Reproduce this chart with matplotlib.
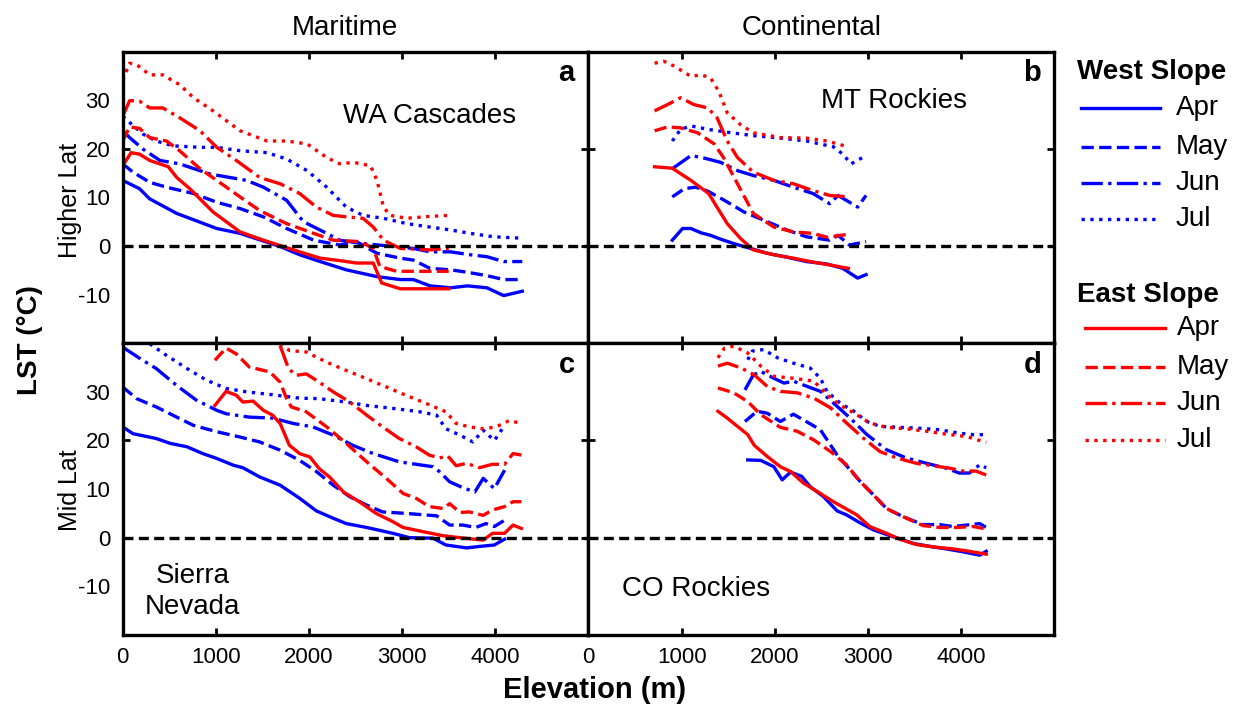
import matplotlib
matplotlib.use("Agg")
import matplotlib.pyplot as plt
from matplotlib.lines import Line2D

plt.rcParams['font.family'] = ['Liberation Sans', 'DejaVu Sans']
plt.rcParams['axes.unicode_minus'] = False

# elevation (m) and LST (deg C), one dict per panel and slope
months = ["Apr", "May", "Jun", "Jul"]

wa_west = {
    "Apr": ([0, 180, 290, 580, 1010, 1260, 1690, 1900, 2120, 2400, 2730, 2980, 3120, 3300, 3520, 3700, 3910, 4090, 4290],
            [13.5, 11.8, 9.7, 6.7, 3.6, 2.6, -0.1, -1.8, -3.2, -4.9, -6.3, -6.9, -6.9, -8.2, -8.6, -8.2, -8.6, -10.2, -9.3]),
    "May": ([0, 110, 290, 470, 760, 1010, 1260, 1510, 1760, 2050, 2330, 2510, 2730, 2980, 3120, 3300, 3520, 3700, 3910, 4090, 4290],
            [16.9, 15.2, 13.1, 12.1, 10.8, 9.0, 7.7, 6.0, 3.6, 1.2, 0.2, 0.9, -1.5, -2.5, -2.9, -4.6, -4.9, -5.4, -6.1, -6.9, -6.9]),
    "Jun": ([0, 75, 220, 400, 610, 940, 1330, 1510, 1760, 1940, 2190, 2330, 2580, 2910, 3120, 3300, 3520, 3730, 3910, 4090, 4290],
            [23.7, 22.3, 19.9, 17.6, 16.9, 14.8, 13.5, 12.1, 9.4, 5.0, 2.6, 1.2, 0.5, -0.1, -0.5, -1.2, -1.2, -1.8, -2.2, -3.2, -3.2]),
    "Jul": ([0, 75, 220, 360, 540, 830, 1010, 1260, 1550, 1760, 1980, 2190, 2400, 2580, 2800, 3050, 3300, 3520, 3730, 3980, 4290],
            [26.7, 25.4, 23.0, 21.6, 20.6, 20.3, 20.3, 19.6, 19.2, 17.9, 15.5, 12.1, 8.0, 6.3, 5.7, 4.6, 3.9, 3.3, 2.6, 1.9, 1.6]),
}
wa_east = {
    "Apr": ([0, 90, 180, 290, 490, 580, 720, 970, 1260, 1510, 1690, 1900, 2120, 2330, 2510, 2690, 2780, 2980, 3500],
            [16.5, 19.2, 18.9, 17.6, 16.3, 14.1, 11.8, 7.0, 2.9, 1.2, 0.1, -1.2, -2.5, -3.0, -3.5, -3.5, -7.6, -8.8, -8.8]),
    "May": ([0, 75, 180, 290, 470, 610, 830, 1010, 1260, 1470, 1760, 2050, 2260, 2550, 2690, 2760, 2940, 3500],
            [21.6, 24.5, 24.2, 22.3, 21.6, 19.6, 15.9, 13.5, 10.1, 7.3, 4.6, 2.6, 1.2, 0.9, -0.5, -4.2, -5.2, -5.2]),
    "Jun": ([0, 75, 180, 290, 430, 610, 830, 1010, 1220, 1470, 1690, 1900, 2080, 2260, 2400, 2580, 2690, 2800, 2980, 3300, 3500],
            [26.7, 29.9, 29.8, 28.4, 28.4, 26.4, 23.7, 20.3, 17.6, 14.1, 12.8, 10.8, 8.0, 6.3, 6.0, 5.7, 3.9, 1.2, -0.5, -0.8, -0.5]),
    "Jul": ([0, 75, 150, 290, 430, 610, 760, 970, 1260, 1550, 1760, 1980, 2190, 2330, 2480, 2660, 2730, 2800, 2870, 3050, 3300, 3500],
            [34.1, 37.6, 37.3, 35.2, 35.2, 33.2, 30.5, 27.8, 23.7, 21.6, 21.6, 21.0, 18.2, 16.9, 17.2, 16.5, 13.5, 8.0, 6.3, 5.7, 6.1, 6.3]),
}

mt_west = {
    "Apr": ([900, 1010, 1100, 1210, 1310, 1420, 1560, 1740, 1920, 2130, 2340, 2560, 2730, 2890, 2980],
            [1.2, 3.6, 3.6, 2.7, 2.2, 1.4, 0.5, -0.5, -1.5, -2.3, -3.2, -3.7, -4.6, -6.6, -5.9]),
    "May": ([900, 1030, 1150, 1280, 1450, 1670, 1920, 2130, 2340, 2590, 2680, 2800, 2980],
            [10.1, 11.8, 12.1, 11.3, 9.5, 7.0, 5.0, 3.3, 1.9, 1.2, 2.2, 0.2, 0.9]),
    "Jun": ([900, 1100, 1240, 1420, 1600, 1770, 1990, 2200, 2410, 2590, 2680, 2890, 2980],
            [15.9, 18.6, 18.1, 17.2, 15.5, 14.5, 13.5, 12.1, 10.8, 8.7, 10.4, 8.0, 10.4]),
    "Jul": ([900, 990, 1100, 1280, 1530, 1770, 2060, 2340, 2630, 2730, 2820, 2980],
            [21.6, 24.0, 24.7, 24.0, 23.3, 22.7, 22.2, 21.6, 20.4, 18.9, 16.9, 18.6]),
}
mt_east = {
    "Apr": ([710, 900, 1100, 1290, 1380, 1490, 1630, 1770, 1990, 2200, 2410, 2590, 2790],
            [16.3, 16.0, 13.5, 10.8, 8.0, 4.6, 1.6, -0.8, -1.8, -2.5, -3.3, -3.9, -4.6]),
    "May": ([710, 850, 990, 1170, 1350, 1450, 1600, 1770, 1990, 2200, 2410, 2560, 2790],
            [23.7, 24.5, 24.3, 23.3, 21.0, 18.2, 12.8, 6.7, 3.9, 2.9, 2.6, 1.8, 2.4]),
    "Jun": ([710, 850, 990, 1130, 1280, 1380, 1490, 1600, 1770, 1990, 2200, 2410, 2590, 2790],
            [27.8, 29.1, 30.5, 29.1, 28.4, 26.4, 21.6, 18.2, 15.2, 13.5, 12.8, 11.4, 10.4, 10.1]),
    "Jul": ([710, 810, 920, 1100, 1210, 1310, 1400, 1490, 1630, 1770, 2060, 2340, 2560, 2790],
            [37.6, 38.0, 37.0, 34.9, 35.2, 34.6, 31.8, 27.4, 25.0, 23.3, 22.3, 22.2, 21.6, 20.4]),
}

sn_west = {
    "Apr": ([0, 110, 360, 510, 690, 860, 1010, 1190, 1290, 1470, 1690, 1900, 2080, 2260, 2400, 2620, 2900, 3080, 3330, 3470, 3690, 3830, 3990, 4100],
            [22.8, 21.4, 20.4, 19.4, 18.7, 17.3, 16.3, 14.9, 14.4, 12.5, 10.8, 8.1, 5.5, 4.0, 2.9, 2.1, 0.9, 0.0, -0.1, -1.5, -2.1, -1.8, -1.5, -0.3]),
    "May": ([0, 150, 360, 580, 760, 1010, 1260, 1470, 1690, 1900, 2080, 2260, 2440, 2620, 2790, 3040, 3370, 3510, 3650, 3790, 3900, 3990, 4100],
            [31.0, 28.6, 26.9, 24.8, 23.1, 21.8, 20.7, 19.7, 18.0, 15.9, 13.6, 10.8, 8.4, 6.7, 5.3, 5.0, 4.5, 2.6, 2.6, 2.1, 2.9, 2.3, 3.6]),
    "Jun": ([0, 190, 360, 580, 790, 1010, 1110, 1360, 1610, 1830, 2040, 2260, 2470, 2690, 2970, 3330, 3400, 3510, 3650, 3780, 3870, 3990, 4100],
            [39.2, 36.8, 34.8, 31.3, 28.3, 26.2, 25.5, 24.8, 24.6, 23.5, 22.8, 21.1, 19.0, 17.3, 15.6, 14.6, 13.6, 11.5, 10.3, 9.4, 12.2, 10.1, 13.9]),
    "Jul": ([290, 470, 690, 900, 1110, 1330, 1610, 1900, 2110, 2400, 2620, 2900, 3190, 3370, 3470, 3620, 3760, 3870, 3990, 4100],
            [39.9, 37.5, 34.8, 32.4, 30.7, 30.0, 29.4, 28.7, 28.6, 27.9, 27.2, 26.6, 25.9, 25.2, 22.4, 21.1, 19.7, 22.1, 20.0, 23.1]),
}
sn_east = {
    "Apr": ([990, 1110, 1220, 1290, 1400, 1510, 1610, 1690, 1790, 1900, 2010, 2110, 2220, 2370, 2540, 2720, 2900, 3010, 3260, 3440, 3620, 3870, 3970, 4100, 4190, 4280],
            [27.2, 30.1, 29.3, 27.9, 28.1, 26.2, 25.2, 23.5, 19.0, 17.3, 16.6, 14.2, 12.5, 9.4, 7.4, 5.0, 3.3, 2.1, 1.1, 0.4, 0.0, -0.5, 0.9, 0.9, 2.6, 1.9]),
    "May": ([990, 1110, 1220, 1360, 1580, 1690, 1760, 1810, 1970, 2190, 2400, 2620, 2830, 3010, 3150, 3290, 3440, 3510, 3620, 3720, 3870, 3970, 4100, 4190, 4280],
            [36.5, 39.0, 37.8, 35.1, 34.1, 32.0, 28.6, 26.9, 25.9, 22.8, 19.4, 15.6, 12.2, 9.1, 8.1, 6.4, 6.0, 7.0, 5.2, 5.3, 4.6, 5.7, 6.4, 7.4, 7.4]),
    "Jun": ([1690, 1780, 1860, 1970, 2110, 2260, 2440, 2620, 2790, 2970, 3150, 3290, 3400, 3490, 3580, 3690, 3830, 3970, 4100, 4190, 4280],
            [39.5, 34.8, 33.4, 33.7, 32.0, 30.0, 27.9, 25.2, 22.8, 20.4, 18.7, 17.0, 16.4, 16.8, 14.8, 15.3, 14.4, 15.1, 15.1, 17.3, 17.0]),
    "Jul": ([1690, 1790, 1970, 2190, 2400, 2620, 2830, 3040, 3260, 3470, 3580, 3720, 3870, 4010, 4150, 4280],
            [39.9, 38.5, 38.2, 36.1, 34.4, 32.7, 31.0, 29.3, 27.6, 25.9, 23.5, 22.8, 22.4, 22.8, 24.1, 23.5]),
}

co_west = {
    "Apr": ([1710, 1850, 1990, 2080, 2170, 2290, 2380, 2520, 2670, 2770, 2920, 3060, 3270, 3490, 3700, 3840, 4020, 4200, 4270],
            [16.0, 15.9, 14.6, 11.9, 13.5, 12.6, 10.5, 8.5, 5.5, 4.7, 3.0, 1.6, 0.2, -1.2, -1.9, -2.3, -2.9, -3.6, -2.8]),
    "May": ([1680, 1810, 1920, 2060, 2200, 2310, 2490, 2670, 2920, 3060, 3200, 3380, 3590, 3770, 3910, 4060, 4200, 4270],
            [23.9, 26.0, 25.6, 23.9, 25.4, 24.2, 22.2, 17.0, 11.5, 8.8, 6.0, 4.3, 2.7, 2.7, 2.3, 2.6, 2.9, 2.1]),
    "Jun": ([1680, 1770, 1850, 1990, 2100, 2200, 2350, 2490, 2630, 2810, 2990, 3200, 3410, 3630, 3840, 3980, 4090, 4200, 4270],
            [30.4, 33.5, 34.2, 32.8, 31.8, 32.2, 31.1, 30.1, 27.7, 24.6, 21.2, 18.1, 16.4, 15.3, 14.3, 13.3, 13.3, 15.0, 14.4]),
    "Jul": ([1710, 1760, 1880, 2030, 2200, 2380, 2490, 2560, 2700, 2850, 2990, 3130, 3340, 3560, 3770, 3980, 4130, 4270],
            [36.6, 38.4, 38.7, 37.0, 35.9, 34.9, 32.8, 30.1, 27.7, 26.0, 23.9, 22.9, 22.7, 22.5, 22.2, 21.5, 21.2, 21.2]),
}
co_east = {
    "Apr": ([1390, 1490, 1600, 1710, 1780, 1920, 2060, 2170, 2310, 2490, 2630, 2880, 3020, 3200, 3340, 3520, 3700, 3910, 4090, 4270],
            [26.0, 24.6, 22.9, 21.2, 19.0, 16.7, 14.6, 13.6, 11.2, 9.1, 7.4, 4.7, 2.3, 0.9, -0.3, -1.4, -1.9, -2.3, -2.8, -3.4]),
    "May": ([1390, 1560, 1710, 1850, 2060, 2240, 2420, 2600, 2770, 2920, 3060, 3200, 3380, 3590, 3770, 3950, 4130, 4270],
            [30.8, 29.8, 28.0, 25.3, 22.7, 21.9, 20.1, 17.7, 15.0, 11.5, 8.8, 6.0, 4.3, 2.5, 2.1, 2.1, 2.3, 1.8]),
    "Jun": ([1390, 1490, 1640, 1780, 1920, 2060, 2240, 2420, 2600, 2770, 2950, 3130, 3310, 3520, 3700, 3880, 4020, 4160, 4270],
            [35.3, 35.9, 34.9, 33.5, 31.1, 30.1, 29.8, 28.7, 26.7, 23.6, 20.5, 17.7, 16.4, 15.3, 14.8, 14.3, 13.7, 13.7, 12.9]),
    "Jul": ([1390, 1460, 1560, 1710, 1850, 1990, 2200, 2420, 2560, 2700, 2880, 3020, 3200, 3410, 3630, 3840, 4060, 4270],
            [37.0, 39.0, 39.4, 38.0, 35.3, 33.2, 32.8, 32.2, 29.4, 27.3, 25.3, 23.6, 22.7, 22.4, 21.9, 21.3, 20.8, 19.6]),
}

styles = {"Apr": "-", "May": "--", "Jun": "-.", "Jul": ":"}
blue, red = "#0000ff", "#ff0000"

fig, axes = plt.subplots(2, 2, figsize=(12.33, 7.11), dpi=100)
fig.subplots_adjust(left=0.0995, right=0.855, top=0.9275, bottom=0.107, wspace=0, hspace=0)

panels = [
    (axes[0, 0], wa_west, wa_east, "a", "WA Cascades", (0.658, 0.78)),
    (axes[0, 1], mt_west, mt_east, "b", "MT Rockies", (0.657, 0.83)),
    (axes[1, 0], sn_west, sn_east, "c", "Sierra\nNevada", (0.15, 0.15)),
    (axes[1, 1], co_west, co_east, "d", "CO Rockies", (0.23, 0.158)),
]

for ax, west, east, letter, name, pos in panels:
    for m in months:
        ax.plot(*west[m], color=blue, ls=styles[m], lw=2.4)
    for m in months:
        ax.plot(*east[m], color=red, ls=styles[m], lw=2.4)
    ax.axhline(0, color="k", lw=2.4, dashes=(3.0, 1.6))
    ax.set_xlim(0, 5000)
    ax.set_ylim(-20, 40)
    for s in ax.spines.values():
        s.set_linewidth(2.4)
    ax.text(pos[0], pos[1], name, transform=ax.transAxes, ha="center", va="center",
            fontsize=20, linespacing=1.25)
    ax.text(0.953, 0.925, letter, transform=ax.transAxes, ha="center", va="center",
            fontsize=21, fontweight="bold")
    # tick marks (inward, all sides)
    ax.set_xticks(range(0, 5001, 1000))
    ax.set_yticks([-20, 0, 20, 40], minor=True)
    ax.yaxis.remove_overlapping_locs = False
    ax.set_yticks([-10, 0, 10, 20, 30])
    ax.tick_params(axis="x", which="major", direction="in", length=5, width=2,
                   top=True, bottom=True, labelsize=16, pad=9)
    ax.tick_params(axis="y", which="major", length=0, labelsize=16, pad=9)
    ax.tick_params(axis="y", which="minor", direction="in", length=5, width=2,
                   left=True, right=True)

for ax in axes[0, :]:
    ax.tick_params(axis="x", labelbottom=False)
for ax in axes[1, :]:
    ax.set_xticklabels(["0", "1000", "2000", "3000", "4000", ""])
for ax in axes[:, 1]:
    ax.tick_params(axis="y", labelleft=False)

W, H = 1233.0, 711.0
def fx(x):
    return x / W
def fy(y):
    return 1 - y / H

fig.text(fx(345), fy(28), "Maritime", ha="center", va="center", fontsize=20)
fig.text(fx(812), fy(28), "Continental", ha="center", va="center", fontsize=20)
fig.text(fx(30), fy(340), "LST (°C)", ha="center", va="center", rotation=90,
         fontsize=20, fontweight="bold")
fig.text(fx(70), fy(200), "Higher Lat", ha="center", va="center", rotation=90, fontsize=18)
fig.text(fx(70), fy(490), "Mid Lat", ha="center", va="center", rotation=90, fontsize=18)
fig.text(fx(595), fy(690), "Elevation (m)", ha="center", va="center",
         fontsize=21, fontweight="bold")

# legend drawn by hand on the right
legend_groups = [
    ("West Slope", blue, 1152, 72, [108, 147, 183, 219], 1081, 1160, 1176),
    ("East Slope", red, 1148, 295, [328, 367, 403, 440], 1085, 1165, 1177),
]
for title, col, tx, ty, rows, x0, x1, xt in legend_groups:
    fig.text(fx(tx), fy(ty), title, ha="center", va="center", fontsize=20, fontweight="bold")
    for m, yy in zip(months, rows):
        fig.add_artist(Line2D([fx(x0), fx(x1)], [fy(yy), fy(yy)], transform=fig.transFigure,
                              color=col, ls=styles[m], lw=2.4))
        fig.text(fx(xt), fy(yy), m, ha="left", va="center", fontsize=20)

fig.savefig("out.png", dpi=100)
